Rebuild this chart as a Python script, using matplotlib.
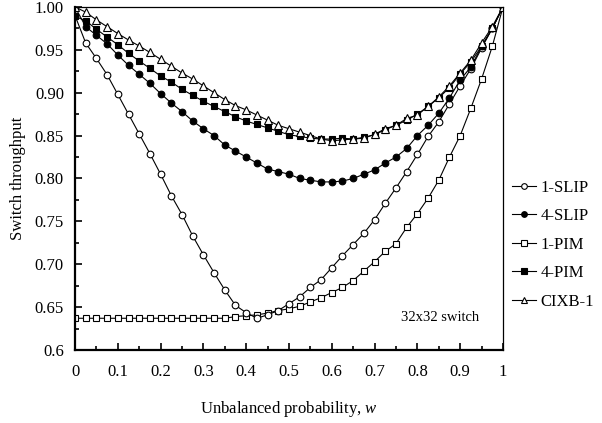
import matplotlib
matplotlib.use('Agg')
import matplotlib.pyplot as plt
from matplotlib.ticker import MultipleLocator

plt.rcParams['font.family'] = ['Liberation Serif', 'DejaVu Serif']
plt.rcParams['mathtext.fontset'] = 'custom'
plt.rcParams['mathtext.it'] = 'Liberation Serif:italic'
plt.rcParams['mathtext.rm'] = 'Liberation Serif'

# unbalanced probability w (sampled every 0.025)
w = [0.0, 0.025, 0.05, 0.075, 0.1, 0.125, 0.15, 0.175, 0.2, 0.225,
     0.25, 0.275, 0.3, 0.325, 0.35, 0.375, 0.4, 0.425, 0.45, 0.475,
     0.5, 0.525, 0.55, 0.575, 0.6, 0.625, 0.65, 0.675, 0.7, 0.725,
     0.75, 0.775, 0.8, 0.825, 0.85, 0.875, 0.9, 0.925, 0.95, 0.975, 1.0]

slip1 = [0.990, 0.958, 0.940, 0.921, 0.898, 0.875, 0.852, 0.829, 0.805, 0.780,
         0.758, 0.733, 0.711, 0.690, 0.670, 0.652, 0.6435, 0.637, 0.641, 0.646,
         0.654, 0.662, 0.673, 0.682, 0.696, 0.710, 0.723, 0.736, 0.752, 0.771,
         0.789, 0.808, 0.828, 0.849, 0.866, 0.887, 0.908, 0.928, 0.952, 0.975, 1.0]

slip4 = [1.0, 0.977, 0.967, 0.957, 0.944, 0.932, 0.9215, 0.911, 0.899, 0.888,
         0.878, 0.867, 0.858, 0.850, 0.839, 0.832, 0.825, 0.818, 0.811, 0.808,
         0.805, 0.800, 0.798, 0.796, 0.796, 0.797, 0.800, 0.805, 0.810, 0.818,
         0.825, 0.835, 0.850, 0.862, 0.876, 0.894, 0.915, 0.930, 0.954, 0.975, 1.0]

pim1 = [0.637, 0.637, 0.637, 0.637, 0.637, 0.637, 0.637, 0.637, 0.637, 0.637,
        0.637, 0.637, 0.637, 0.637, 0.637, 0.639, 0.640, 0.641, 0.643, 0.646,
        0.648, 0.651, 0.656, 0.661, 0.667, 0.673, 0.681, 0.692, 0.703, 0.715,
        0.724, 0.743, 0.759, 0.777, 0.798, 0.825, 0.850, 0.882, 0.916, 0.954, 1.0]

pim4 = [0.989, 0.984, 0.974, 0.965, 0.956, 0.946, 0.937, 0.9285, 0.9195, 0.9125,
        0.904, 0.897, 0.890, 0.884, 0.878, 0.872, 0.867, 0.863, 0.859, 0.855,
        0.851, 0.849, 0.847, 0.846, 0.846, 0.847, 0.846, 0.848, 0.851, 0.857,
        0.862, 0.868, 0.875, 0.884, 0.894, 0.906, 0.922, 0.936, 0.954, 0.975, 1.0]

cixb1 = [1.0, 0.994, 0.985, 0.977, 0.969, 0.9615, 0.9545, 0.947, 0.939, 0.931,
         0.923, 0.916, 0.908, 0.900, 0.892, 0.885, 0.880, 0.874, 0.868, 0.862,
         0.858, 0.854, 0.850, 0.846, 0.844, 0.845, 0.846, 0.847, 0.8515, 0.858,
         0.862, 0.870, 0.874, 0.884, 0.895, 0.908, 0.923, 0.938, 0.958, 0.977, 1.0]

yticks = [0.6, 0.65, 0.70, 0.75, 0.80, 0.85, 0.90, 0.95, 1.00]
ytick_labels = ['0.6', '0.65', '0.70', '0.75', '0.80', '0.85', '0.90', '0.95', '1.00']
xticks = [0, 0.1, 0.2, 0.3, 0.4, 0.5, 0.6, 0.7, 0.8, 0.9, 1]
xtick_labels = ['0', '0.1', '0.2', '0.3', '0.4', '0.5', '0.6', '0.7', '0.8', '0.9', '1']

fig = plt.figure(figsize=(6.02, 4.23), dpi=100)
ax = fig.add_axes([0.1246, 0.1726, 0.7109, 0.8109])

kw = dict(color='black', linewidth=0.8, markersize=4.8, markeredgewidth=0.8)
ax.plot(w, pim1, marker='s', markerfacecolor='white', label='1-PIM', **kw)
ax.plot(w, slip1, marker='o', markerfacecolor='white', label='1-SLIP', **kw)
ax.plot(w, slip4, marker='o', markerfacecolor='black', label='4-SLIP', **kw)
ax.plot(w, pim4, marker='s', markerfacecolor='black', label='4-PIM', **kw)
ax.plot(w, cixb1, marker='^', markerfacecolor='white', markersize=5.5,
        label='CIXB-1', color='black', linewidth=0.8, markeredgewidth=0.8)

ax.set_xlim(0, 1)
ax.set_ylim(0.6, 1.0)
ax.set_xticks(xticks)
ax.set_xticklabels(xtick_labels)
ax.set_yticks(yticks)
ax.set_yticklabels(ytick_labels)
ax.xaxis.set_minor_locator(MultipleLocator(0.05))
ax.yaxis.set_minor_locator(MultipleLocator(0.025))
ax.tick_params(which='both', direction='in', top=False, right=False,
               labelsize=12, width=1.2)
ax.tick_params(axis='x', which='major', length=5, pad=10)
ax.tick_params(axis='x', which='minor', length=3)
ax.tick_params(axis='y', which='major', length=5, pad=8)
ax.tick_params(axis='y', which='minor', length=3)

for side in ['left', 'bottom']:
    ax.spines[side].set_linewidth(1.6)
for side in ['top', 'right']:
    ax.spines[side].set_linewidth(0.9)

ax.set_xlabel('Unbalanced probability, $\\mathit{w}$', fontsize=12, labelpad=14)
ax.set_ylabel('Switch throughput', fontsize=12, labelpad=6)
ax.text(0.853, 0.096, '32x32 switch', transform=ax.transAxes, fontsize=10.5,
        ha='center', va='center')

handles, labels = ax.get_legend_handles_labels()
order = [1, 2, 0, 3, 4]
fig.legend([handles[i] for i in order], [labels[i] for i in order],
           loc='upper left', bbox_to_anchor=(0.851, 0.575), frameon=False,
           fontsize=12, handlelength=1.4, handletextpad=0.3,
           labelspacing=0.75, borderpad=0, borderaxespad=0, markerscale=0.85)

fig.savefig('out.png', dpi=100)
